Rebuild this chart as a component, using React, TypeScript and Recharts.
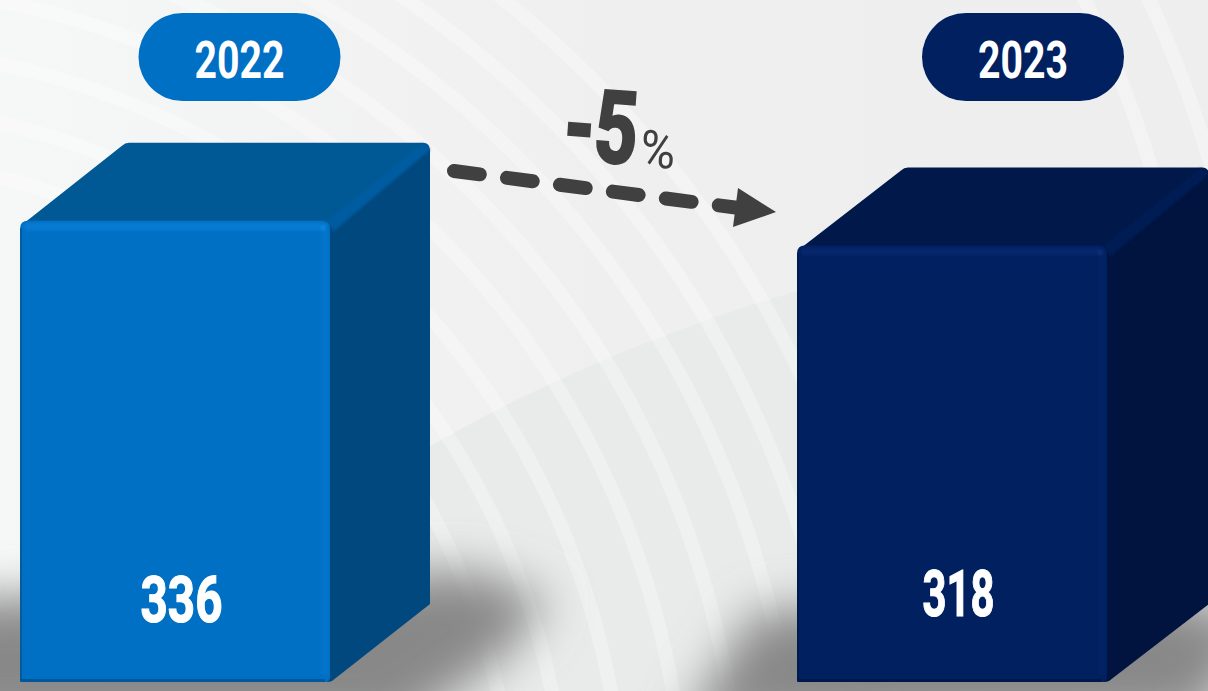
import { BarChart, Bar, XAxis, YAxis, LabelList } from 'recharts'

const years = [2022, 2023]
const totals = [336, 318]
const changeLabel = '-5'
const changeUnit = '%'

const chartData = years.map((year, i) => ({ year, total: totals[i] }))

const palette = [
  { front: '#0070c4', top: '#005894', side: '#00487e', edge: '#0a82dc', shade: '#005ca0' },
  { front: '#002060', top: '#00194a', side: '#00143f', edge: '#0a2c74', shade: '#001c54' },
]
const pillShift = [65, 71.5]
const valueLift = [60, 66.5]
const depthX = [100, 102]
const depthY = 78
const fontFamily = '"Liberation Sans Narrow", "Roboto", sans-serif'
const ringRadii = [678, 731, 789, 850, 905, 962, 1012, 1070]
const farRingRadii = [1000, 1058]

function Backdrop() {
  return (
    <svg width={1208} height={691} style={{ position: 'absolute', left: 0, top: 0 }}>
      <defs>
        <linearGradient id="paper" x1="0" y1="0" x2="1" y2="0">
          <stop offset="0" stopColor="#f6f7f7" />
          <stop offset="0.5" stopColor="#efeff0" />
          <stop offset="1" stopColor="#eeeeef" />
        </linearGradient>
        <filter id="shadow" x="-30%" y="-60%" width="160%" height="220%">
          <feGaussianBlur stdDeviation="24" />
        </filter>
      </defs>
      <rect x={0} y={0} width={1208} height={691} fill="url(#paper)" />
      <circle cx={1270} cy={1924} r={1700} fill="#e8e9e9" opacity={0.85} />
      {ringRadii.map(radius => (
        <circle key={radius} cx={-165} cy={835} r={radius} fill="none" stroke="#fff" strokeWidth={14} opacity={0.3} />
      ))}
      {farRingRadii.map(radius => (
        <circle key={radius} cx={192} cy={451} r={radius} fill="none" stroke="#fff" strokeWidth={14} opacity={0.3} />
      ))}
      <path d="M-60 600 L300 585 L470 570 L550 600 L500 660 L400 730 L-60 730 Z" fill="#888888" filter="url(#shadow)" />
      <path d="M680 730 L755 612 L1140 590 L1265 620 L1200 720 Z" fill="#888888" filter="url(#shadow)" />
    </svg>
  )
}

function Cuboid(props: any) {
  const { x, y, width, height, index } = props
  const c = palette[index]
  const dx = depthX[index]
  const r = x + width
  const b = y + height
  return (
    <g>
      <defs>
        <filter id={`soft${index}`} x="-30%" y="-30%" width="160%" height="160%">
          <feGaussianBlur stdDeviation="1.5" />
        </filter>
      </defs>
      <path
        d={`M${x + 2} ${y + 4} L${x + dx + 2} ${y - depthY + 3} Q${x + dx + 5} ${y - depthY} ${x + dx + 9} ${y - depthY}
            L${r + dx - 7} ${y - depthY} Q${r + dx} ${y - depthY} ${r + dx} ${y - depthY + 8}
            L${r} ${y + 8} Z`}
        fill={c.top}
      />
      <path
        d={`M${r} ${y + 6} L${r + dx} ${y - depthY + 6} L${r + dx} ${b - depthY} L${r + 2} ${b - 1} Q${r} ${b} ${r - 4} ${b} Z`}
        fill={c.side}
      />
      <path
        d={`M${r - 2} ${y - 1} L${r + dx - 8} ${y - depthY + 1} L${r + dx} ${y - depthY + 7} L${r + 3} ${y + 11} Z`}
        fill={c.shade}
        filter={`url(#soft${index})`}
      />
      <path
        d={`M${x} ${y + 8} Q${x} ${y} ${x + 8} ${y} L${r - 8} ${y} Q${r} ${y} ${r} ${y + 8} L${r} ${b - 5} Q${r} ${b} ${r - 6} ${b}
            L${x + 2} ${b} Q${x} ${b} ${x} ${b - 2} Z`}
        fill={c.front}
      />
      <rect x={x + 4} y={y + 2} width={width - 8} height={8} rx={4} fill={c.edge} opacity={0.6} filter={`url(#soft${index})`} />
      <rect x={r - 8} y={y + 3} width={6} height={height - 10} rx={3} fill={c.edge} opacity={0.3} filter={`url(#soft${index})`} />
      <circle cx={r - 7} cy={y + 7} r={3} fill={c.edge} />
      <rect x={x} y={b - 3} width={width - 5} height={3} fill={c.side} opacity={0.6} />
      <rect x={x} y={y + 8} width={2} height={height - 10} fill={c.side} opacity={0.5} />
    </g>
  )
}

function YearPill(props: any) {
  const { x, index, payload } = props
  const cx = x + pillShift[index]
  return (
    <g>
      <rect x={cx - 101} y={13} width={202} height={88} rx={44} fill={palette[index].front} />
      <text
        x={cx}
        y={78}
        textAnchor="middle"
        fontFamily={fontFamily}
        fontWeight={700}
        fontSize={52}
        fill="#fff"
        textLength={90}
        lengthAdjust="spacingAndGlyphs"
      >
        {payload.value}
      </text>
    </g>
  )
}

function ValueText(props: any) {
  const { x, y, width, height, value, index } = props
  return (
    <text
      x={x + width / 2 + 6.5}
      y={y + height - valueLift[index]}
      textAnchor="middle"
      fontFamily={fontFamily}
      fontWeight={700}
      fontSize={64}
      fill="#fff"
      stroke="#fff"
      strokeWidth={1.2}
      textLength={index === 0 ? 82 : 72}
      lengthAdjust="spacingAndGlyphs"
    >
      {value}
    </text>
  )
}

export default function App() {
  return (
    <div style={{ position: 'absolute', left: 0, top: 0, width: 1208, height: 691, overflow: 'hidden' }}>
      <Backdrop />
      <div style={{ position: 'absolute', left: 0, top: 0 }}>
        <BarChart width={1208} height={691} data={chartData} margin={{ top: 0, right: 102, bottom: 9, left: 19 }}>
          <XAxis
            dataKey="year"
            type="number"
            orientation="top"
            domain={[2022, 2023]}
            ticks={years}
            height={1}
            padding={{ left: 155.5, right: 154.5 }}
            tick={<YearPill />}
            tickLine={false}
            axisLine={false}
            interval={0}
          />
          <YAxis hide domain={[0, 496]} />
          <Bar dataKey="total" barSize={310} shape={<Cuboid />} isAnimationActive={false}>
            <LabelList dataKey="total" content={<ValueText />} />
          </Bar>

          <line x1={454} y1={171} x2={743} y2={208.5} stroke="#404040" strokeWidth={14} strokeLinecap="round" strokeDasharray="26 27.4" />
          <path d="M738 188 L776 212 L733 227 Z" fill="#404040" />
          <g transform="rotate(4 620 140)" fill="#404040" fontFamily={fontFamily}>
            <text x={564} y={163} fontWeight={700} fontSize={100} stroke="#404040" strokeWidth={3} textLength={73} lengthAdjust="spacingAndGlyphs">
              {changeLabel}
            </text>
            <text x={641} y={165} fontSize={52} textLength={35} lengthAdjust="spacingAndGlyphs">
              {changeUnit}
            </text>
          </g>
        </BarChart>
      </div>
    </div>
  )
}
